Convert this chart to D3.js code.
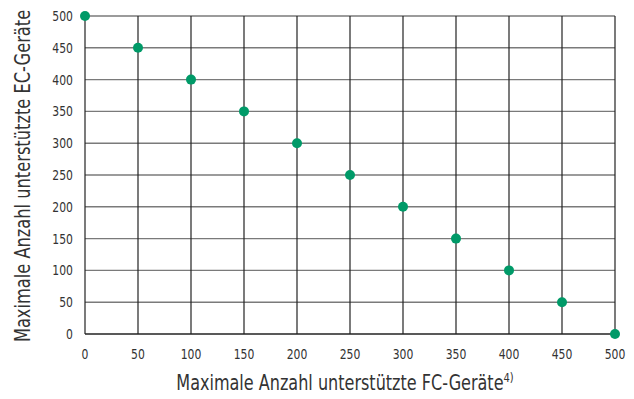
<!DOCTYPE html>
<html><head><meta charset="utf-8">
<script src="https://cdn.jsdelivr.net/npm/d3@7"></script>
<style>
body{margin:0;background:#fff;}
text{font-family:"Liberation Sans Narrow","DejaVu Sans Condensed",sans-serif;fill:#333;}
</style></head>
<body><svg id="c" width="634" height="399"></svg>
<script>
const fcDevices = [0,50,100,150,200,250,300,350,400,450,500];
const ecDevices = [500,450,400,350,300,250,200,150,100,50,0];
const xTicks = [0,50,100,150,200,250,300,350,400,450,500];
const yTicks = [0,50,100,150,200,250,300,350,400,450,500];

const svg = d3.select("#c");
const x = d3.scaleLinear().domain([0,500]).range([85,615]);
const y = d3.scaleLinear().domain([0,500]).range([334,16]);

// horizontal grid
svg.append("g").selectAll("line").data(yTicks).join("line")
  .attr("x1",x(0)).attr("x2",x(500)).attr("y1",d=>y(d)).attr("y2",d=>y(d))
  .attr("stroke",d=>d===0?"#222":"#7a7a7a").attr("stroke-width",1.4);
// vertical grid
svg.append("g").selectAll("line").data(xTicks).join("line")
  .attr("y1",y(0)).attr("y2",y(500)).attr("x1",d=>x(d)).attr("x2",d=>x(d))
  .attr("stroke","#222").attr("stroke-width",1.2);

// tick labels (narrowed horizontally for a condensed look)
svg.append("g").selectAll("text").data(yTicks).join("text")
  .attr("transform",d=>`translate(${x(0)-12},${y(d)}) scale(0.86,1)`)
  .attr("dy","0.36em").attr("text-anchor","end").attr("font-size",14).text(d=>d);
svg.append("g").selectAll("text").data(xTicks).join("text")
  .attr("transform",d=>`translate(${x(d)},${y(0)+20}) scale(0.86,1)`)
  .attr("dy","0.36em").attr("text-anchor","middle").attr("font-size",14).text(d=>d);

// points
svg.append("g").selectAll("circle").data(fcDevices).join("circle")
  .attr("cx",d=>x(d)).attr("cy",(d,i)=>y(ecDevices[i])).attr("r",5)
  .attr("fill","#009a68");

// axis titles
const xt = svg.append("text").attr("transform","translate(345,390) scale(0.85,1)")
  .attr("text-anchor","middle").attr("font-size",21);
xt.append("tspan").text("Maximale Anzahl unterstützte FC-Geräte");
xt.append("tspan").attr("font-size",13).attr("dy",-8).text("4)");
svg.append("text").attr("transform","translate(30,176) rotate(-90) scale(0.86,1)")
  .attr("text-anchor","middle").attr("font-size",21)
  .text("Maximale Anzahl unterstützte EC-Geräte");
</script></body></html>
